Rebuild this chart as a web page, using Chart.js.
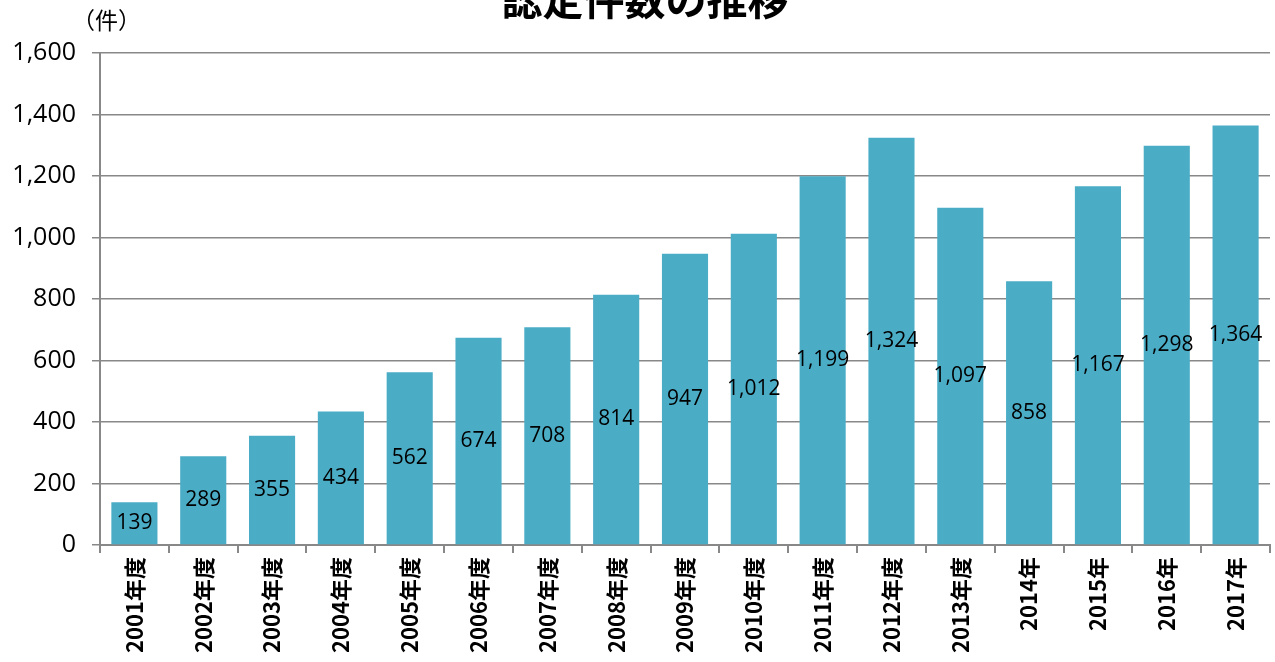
<!DOCTYPE html>
<html>
<head>
<meta charset="utf-8">
<script src="https://cdn.jsdelivr.net/npm/chart.js@4/dist/chart.umd.min.js"></script>
<style>
  html, body { margin: 0; padding: 0; background: #fff; overflow: hidden; }
  #wrap { position: relative; width: 1275px; height: 662px; }
  #titre { position: absolute; top: -33px; left: 0; width: 1290px; text-align: center;
           font: bold 41px "Noto Sans CJK JP"; color: #000; }
  #unite { position: absolute; top: 2px; left: 72px; font: 23px "Noto Sans CJK JP"; color: #000; }
</style>
</head>
<body>
<div id="wrap">
  <canvas id="canvasNinteiKensu" width="1275" height="662"></canvas>
  <div id="titre">認定件数の推移</div>
  <div id="unite">（件）</div>
</div>
<script>
// données
const annees = ["2001年度", "2002年度", "2003年度", "2004年度", "2005年度", "2006年度", "2007年度", "2008年度",
    "2009年度", "2010年度", "2011年度", "2012年度", "2013年度", "2014年", "2015年", "2016年", "2017年"]
const kensu = [139, 289, 355, 434, 562, 674, 708, 814, 947, 1012, 1199, 1324, 1097, 858, 1167, 1298, 1364]
const couleurBarre = "#4BACC6"

// affiche la valeur au milieu de chaque barre
const etiquettesValeurs = {
    id: "etiquettesValeurs",
    afterDatasetsDraw(chart) {
        let ctx = chart.ctx
        let meta = chart.getDatasetMeta(0)
        ctx.save()
        ctx.font = '21px "Open Sans"'
        ctx.fillStyle = "#000"
        ctx.textAlign = "center"
        ctx.textBaseline = "middle"
        meta.data.forEach((barre, i) => {
            let y = (barre.y + barre.base) / 2
            ctx.fillText(kensu[i].toLocaleString("en-US"), barre.x, y)
        })
        ctx.restore()
    }
}

new Chart(document.getElementById("canvasNinteiKensu"), {
    type: 'bar',
    data: {
        labels: annees,
        datasets: [{
            data: kensu,
            backgroundColor: couleurBarre,
            borderWidth: 0,
            barPercentage: 0.67,
            categoryPercentage: 1
        }]
    },
    options: {
        responsive: false,
        animation: false,
        layout: { padding: { top: 53, right: 5, left: 0, bottom: 0 } },
        scales: {
            x: {
                afterFit: function(axe) { axe.height = 117 },
                border: { color: '#888', width: 2 },
                grid: { drawOnChartArea: false, drawTicks: true, tickLength: 8, color: '#888', lineWidth: 2 },
                ticks: {
                    minRotation: 90,
                    maxRotation: 90,
                    autoSkip: false,
                    color: '#000',
                    padding: 4,
                    font: { family: '"Noto Sans CJK JP"', size: 22, weight: 'bold' }
                }
            },
            y: {
                min: 0,
                max: 1600,
                afterFit: function(axe) { axe.width = 100 },
                border: { color: '#888', width: 2 },
                grid: { color: '#888', lineWidth: 1.5, tickLength: 8 },
                ticks: {
                    stepSize: 200,
                    color: '#000',
                    padding: 16,
                    font: { family: '"Open Sans"', size: 25 },
                    callback: function(valeur) {
                        return valeur.toLocaleString("en-US")
                    }
                }
            }
        },
        plugins: {
            legend: { display: false },
            tooltip: { enabled: false }
        }
    },
    plugins: [etiquettesValeurs]
})
</script>
</body>
</html>
